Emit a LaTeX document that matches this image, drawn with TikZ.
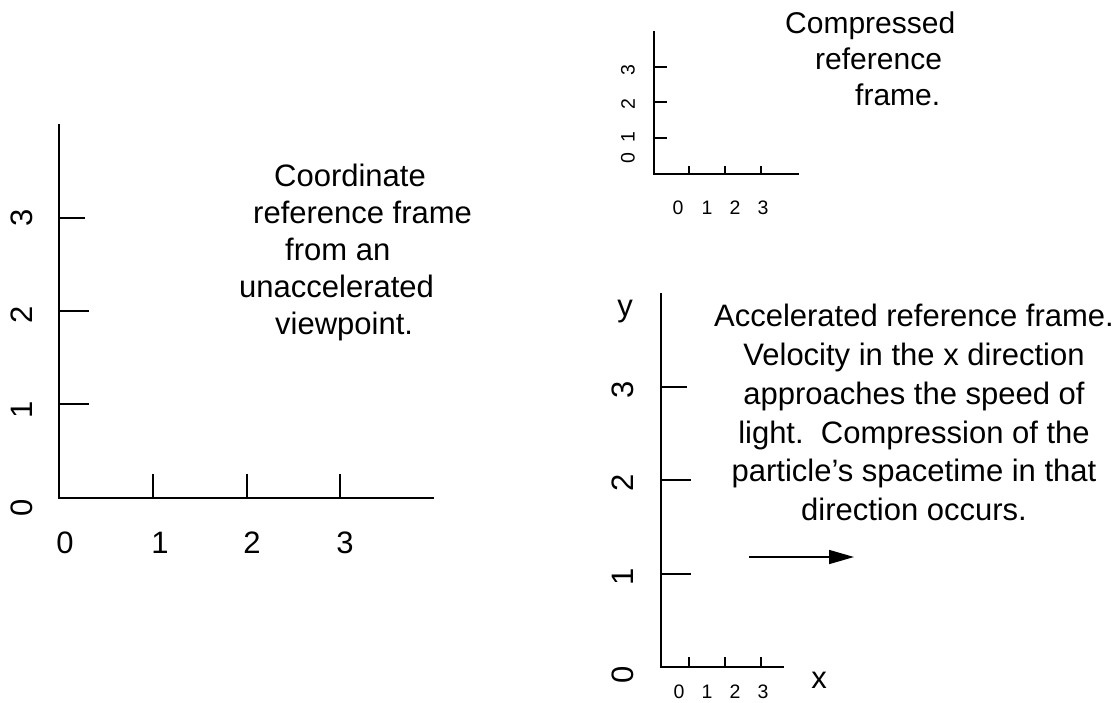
\documentclass[tikz,border=0pt]{standalone}
\usepackage{fontspec}
\setmainfont{Liberation Sans}
\usetikzlibrary{arrows.meta,positioning}
\tikzset{
  axis/.style={line width=1.8pt},
  tickline/.style={line width=1.5pt},
  bigtxt/.style={font=\fontsize{31}{37}\selectfont,inner sep=0pt},
  smalltxt/.style={font=\fontsize{19.5}{23}\selectfont,inner sep=0pt},
  arr/.style={-{Triangle[length=25pt,width=14pt]},line width=1.6pt},
}
\begin{document}
\begin{tikzpicture}[x=1pt,y=-1pt]
        \useasboundingbox (0,0) rectangle (1118,702);
        \draw[axis] (59,124) -- (59,498) -- (434,498);
        \draw[tickline] (59,218) -- (85,218);
        \foreach \yy in {311,404} \draw[tickline] (59,\yy) -- (89,\yy);
        \foreach \xx in {153,247,340} \draw[tickline] (\xx,498) -- (\xx,474);
        \foreach \lab/\yy in {0/508,1/410,2/315,3/218}
              \node[bigtxt,rotate=90] at (22,\yy) {\lab};
        \foreach \lab/\xx in {0/65,1/160,2/252,3/345}
              \node[bigtxt] at (\xx,543) {\lab};
        \node[bigtxt,align=left,anchor=north west] (unacc) at (239,164)
              {\hspace*{35pt}Coordinate\\
               \hspace*{14pt}reference frame\\
               \hspace*{46pt}from an\\
               unaccelerated\\
               \hspace*{36pt}viewpoint.};
        \draw[axis] (654,31) -- (654,174) -- (799,174);
        \foreach \yy in {67,102,138} \draw[tickline] (654,\yy) -- (667,\yy);
        \foreach \xx in {689,725,761} \draw[tickline] (\xx,174) -- (\xx,166);
        \foreach \lab/\yy in {0/158,1/137,2/104,3/70}
              \node[smalltxt,rotate=90] at (628,\yy) {\lab};
        \foreach \lab/\xx in {0/678,1/707,2/735,3/763}
              \node[smalltxt] at (\xx,208) {\lab};
        \node[bigtxt,font=\fontsize{30}{36}\selectfont,align=left,
              anchor=north west] (compr) at (785,12)
              {Compressed\\
               \hspace*{30pt}reference\\
               \hspace*{70pt}frame.};
        \draw[axis] (661,293) -- (661,667) -- (784,667);
        \draw[tickline] (661,387) -- (687,387);
        \foreach \yy in {480,574} \draw[tickline] (661,\yy) -- (691,\yy);
        \foreach \xx in {689,725,761} \draw[tickline] (\xx,667) -- (\xx,657);
        \foreach \lab/\yy in {0/675,1/577,2/483,3/390}
              \node[bigtxt,rotate=90] at (623,\yy) {\lab};
        \foreach \lab/\xx in {0/679,1/707,2/735,3/763}
              \node[smalltxt] at (\xx,692) {\lab};
        \node[bigtxt] (ylab) at (625,312) {y};
        \node[bigtxt] (xlab) at (819,680) {x};
        \node[bigtxt,font=\fontsize{31}{38.8}\selectfont,align=center,
              anchor=north] (accel) at (914,304)
              {Accelerated reference frame.\\
               Velocity in the x direction\\
               approaches the speed of\\
               light.\ \ Compression of the\\
               particle’s spacetime in that\\
               direction occurs.};
        \coordinate (velS) at (749,557);
        \coordinate (velE) at (854,557);
        \draw[arr] (velS) -- (velE);
      \end{tikzpicture}
\end{document}
